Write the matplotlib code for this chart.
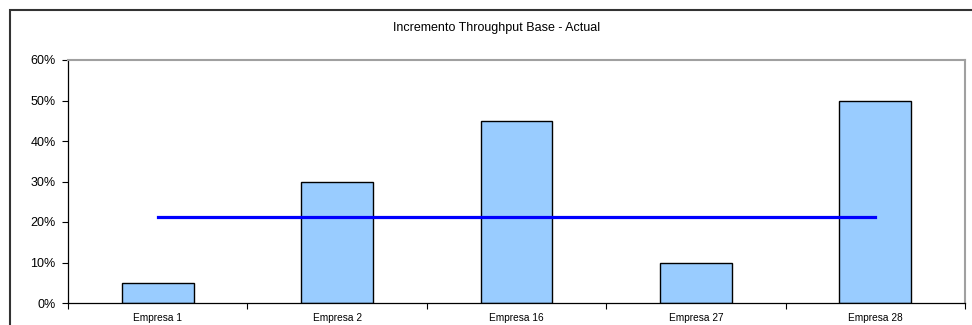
import numpy as np
import matplotlib.pyplot as plt
from matplotlib.patches import Rectangle
from matplotlib.ticker import PercentFormatter

plt.rcParams['font.family'] = ['Liberation Sans', 'DejaVu Sans']

empresas = ["Empresa 1", "Empresa 2", "Empresa 16", "Empresa 27", "Empresa 28"]
incremento = [0.05, 0.30, 0.45, 0.10, 0.50]
promedio = [0.213, 0.213, 0.213, 0.213, 0.213]

W, H = 972, 325
fig = plt.figure(figsize=(W / 100, H / 100), dpi=100)

# outer chart frame (only top/left visible, rest is cut off)
fig.patches.append(Rectangle((10 / W, -0.1), 1.2, (H - 10) / H + 0.1, transform=fig.transFigure,
                             fill=False, edgecolor='#333333', linewidth=1.5))

ax = fig.add_axes([68 / W, (H - 303) / H, (965 - 68) / W, (303 - 60) / H])
x = np.arange(len(empresas))
ax.bar(x, incremento, width=0.4, color='#99CCFF', edgecolor='black', linewidth=1.0, zorder=2)
ax.plot(x, promedio, color='#0000FF', linewidth=2.3, zorder=3)

ax.set_xlim(-0.5, len(empresas) - 0.5)
ax.set_ylim(0, 0.6)
ax.set_yticks(np.arange(0, 0.61, 0.1))
ax.yaxis.set_major_formatter(PercentFormatter(1.0, decimals=0))
ax.tick_params(axis='y', labelsize=9, length=4, width=0.8, pad=5, colors='black')

ax.set_xticks(x)
ax.set_xticklabels(empresas, fontsize=7.3)
ax.set_xticks(np.arange(-0.5, len(empresas), 1.0), minor=True)
ax.tick_params(axis='x', which='major', length=0, pad=7)
ax.tick_params(axis='x', which='minor', length=4, width=0.8)

for s in ['top', 'right']:
    ax.spines[s].set_color('#a0a0a0')
    ax.spines[s].set_linewidth(1.5)
for s in ['left', 'bottom']:
    ax.spines[s].set_color('black')
    ax.spines[s].set_linewidth(0.9)

fig.text(497 / W, 1 - 28 / H, "Incremento Throughput Base - Actual", ha='center', va='center', fontsize=9)

fig.savefig("out.png", dpi=100)
